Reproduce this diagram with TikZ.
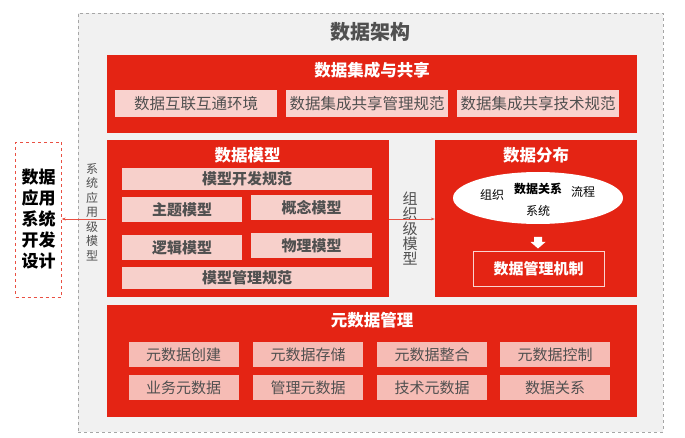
\documentclass[tikz,border=0pt]{standalone}
\usepackage{fontspec}
\setmainfont{Noto Sans CJK SC}
\usetikzlibrary{arrows.meta, positioning, shapes.geometric}

\definecolor{archred}{HTML}{E42414}
\definecolor{lightpink}{HTML}{F9D2CE}
\definecolor{modelpink}{HTML}{F7D0CB}
\definecolor{metapink}{HTML}{F6BCB5}
\definecolor{txtgrey}{HTML}{505050}
\definecolor{bggrey}{HTML}{F1F1F1}

\begin{document}
\begin{tikzpicture}[
      x=1pt, y=-1pt,
      >={Stealth[length=4pt, width=3pt]},
      frame/.style={draw=gray!70, dashed, fill=bggrey},
      panel/.style={fill=archred, inner sep=0pt},
      ptitle/.style={text=white, font=\bfseries\fontsize{16.5}{16.5}\selectfont},
      share/.style={fill=lightpink, text=txtgrey, inner sep=0pt, minimum width=162pt, minimum height=27pt, font=\fontsize{15.5}{15.5}\selectfont},
      model/.style={fill=modelpink, text=txtgrey, inner sep=0pt, minimum height=25pt, font=\bfseries\fontsize{15}{15}\selectfont},
      meta/.style={fill=metapink, text=txtgrey, inner sep=0pt, minimum width=110pt, minimum height=25pt, font=\fontsize{15}{15}\selectfont},
      vtext/.style={align=center, text=txtgrey, inner sep=0pt},
      ring/.style={font=\fontsize{12}{12}\selectfont},
    ]
    \useasboundingbox (0,0) rectangle (685,438);

    % outer frame
    \node[frame, minimum width=585pt, minimum height=419pt] (arch) at (370.5,222.5) {};
    \node[font=\bfseries\fontsize{20}{20}\selectfont, text=txtgrey] (archtitle) at (370,32) {数据架构};

    % data integration and sharing
    \node[panel, minimum width=530pt, minimum height=78pt] (share) at (372,94) {};
    \node[ptitle] (sharetitle) at (372,70) {数据集成与共享};
    \node[share] (s1) at (196,103.5) {数据互联互通环境};
    \node[share] (s2) at (367,103.5) {数据集成共享管理规范};
    \node[share] (s3) at (538,103.5) {数据集成共享技术规范};

    % data model
    \node[panel, minimum width=282pt, minimum height=157pt] (model) at (247.5,218.5) {};
    \node[ptitle] (modeltitle) at (247.5,155) {数据模型};
    \node[model, minimum width=250pt, minimum height=22pt] (m1) at (247,179) {模型开发规范};
    \node[model, minimum width=120pt] (m2) at (182,209.5) {主题模型};
    \node[model, minimum width=121pt] (m3) at (311.5,208) {概念模型};
    \node[model, minimum width=120pt] (m4) at (182,247.5) {逻辑模型};
    \node[model, minimum width=121pt] (m5) at (311.5,245.5) {物理模型};
    \node[model, minimum width=250pt, minimum height=21pt] (m6) at (247,278) {模型管理规范};

    % data distribution
    \node[panel, minimum width=202pt, minimum height=157pt] (dist) at (536,218.5) {};
    \node[ptitle] (disttitle) at (536,155) {数据分布};
    \node[ellipse, fill=white, minimum width=170pt, minimum height=52pt, inner sep=0pt] (rel) at (538,198) {};
    \node[ring] (org) at (492,195) {组织};
    \node[ring, font=\bfseries\fontsize{12}{12}\selectfont] (relname) at (538,189) {数据关系};
    \node[ring] (proc) at (583,192) {流程};
    \node[ring] (sys) at (538,211) {系统};
    \fill[white, shift={(538,237)}] (-4,0) -- (4,0) -- (4,5) -- (7.5,5) -- (0,11.5) -- (-7.5,5) -- (-4,5) -- cycle;
    \node[draw=white!80!archred, line width=0.8pt, minimum width=131pt, minimum height=35pt, text=white, font=\bfseries\fontsize{15}{15}\selectfont] (mech) at (538.5,268.5) {数据管理机制};

    % metadata management
    \node[panel, minimum width=530pt, minimum height=112pt] (meta) at (372,361) {};
    \node[ptitle] (metatitle) at (372,320) {元数据管理};
    \node[meta] (a1) at (183.5,354.5) {元数据创建};
    \node[meta] (a2) at (308,354.5) {元数据存储};
    \node[meta] (a3) at (432,354.5) {元数据整合};
    \node[meta] (a4) at (555,354.5) {元数据控制};
    \node[meta] (b1) at (183.5,387.5) {业务元数据};
    \node[meta] (b2) at (308,387.5) {管理元数据};
    \node[meta] (b3) at (432,387.5) {技术元数据};
    \node[meta] (b4) at (555,387.5) {数据关系};

    % application side
    \node[draw=archred!80, dashed, fill=white, minimum width=46pt, minimum height=155pt, inner sep=0pt,
          align=center, font=\bfseries\fontsize{17}{21}\selectfont] (app) at (38.5,219.5)
          {数据\\应用\\系统\\开发\\设计};
    \node[vtext, font=\fontsize{12}{14.5}\selectfont] (syslevel) at (92,212) {系\\统\\应\\用\\级\\模\\型};
    \node[vtext, font=\fontsize{15}{15}\selectfont] (orglevel) at (410,229) {组\\织\\级\\模\\型};

    \coordinate (mleft) at (model.west |- 0,219);
    \coordinate (aright) at (app.east |- 0,219);
    \coordinate (mright) at (model.east |- 0,219);
    \coordinate (dleft) at (dist.west |- 0,219);
    \draw[->, archred!80, line width=0.5pt] (mleft) -- (aright);
    \draw[->, archred!80, line width=0.5pt] (mright) -- (dleft);
  \end{tikzpicture}
\end{document}
